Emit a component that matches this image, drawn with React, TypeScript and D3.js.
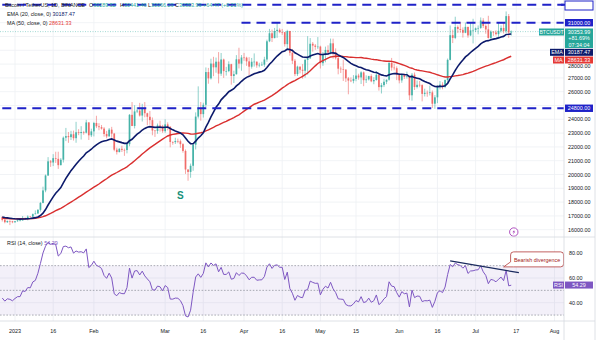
import React from 'react';
import * as d3 from 'd3';

// ---- DATA (daily BTC/USDT) ----
const warmupCloses = [
  20480, 20150, 20207, 21148, 21300, 20905, 20591, 18547, 15922, 17601, 17070, 16813, 16330, 16620, 16900,
  16663, 16696, 16712, 16700, 16280, 15781, 16227, 16600, 16598, 16522, 16459, 16428, 16213, 16442, 17163,
  16978, 17092, 16885, 17105, 16966, 17089, 16836, 17224, 17128, 17128, 17104, 17206, 17781, 17813, 17364,
  16618, 16777, 16739, 16438, 16895, 16824, 16821, 16778, 16836, 16832, 16919,
];
const firstDate = '2022-12-27';
const closes = [
  16706, 16547, 16633, 16607, 16542,
  16616, 16672, 16675, 16850, 16831, 16950, 16943, 17127, 17178, 17440, 17943, 18846, 19930, 20954, 20871, 21185,
  21133, 20677, 21071, 22667, 22784, 22707, 22917, 22632, 23060, 23009, 23078, 23031, 23774, 22841, 23125,
  23733, 23492, 23431, 23326, 22933, 22763, 23250, 22964, 21797, 21626, 21863, 21783, 21773, 22200, 24325, 23518,
  24570, 24632, 24272, 24838, 24440, 24182, 23940, 23186, 23157, 23555, 23492, 23141,
  23629, 23466, 22354, 22346, 22430, 22410, 22197, 21705, 20363, 20187, 20633, 22163, 24197, 24746, 24375, 25052,
  27423, 26966, 28039, 27767, 28176, 27307, 28333, 27493, 27494, 27994, 27140, 27268, 28348, 28033, 28478,
  28465, 28199, 27812, 28170, 28175, 27908, 27947, 27960, 28333, 29653, 30235, 29884, 30399, 30485, 30318, 30315,
  29445, 30397, 28823, 28245, 27276, 27817, 27591, 27515, 28307, 28422, 29473, 29340, 29248, 29268,
  28068, 28669, 29026, 28838, 29506, 28849, 28431, 27669, 27628, 27599, 26969, 26805, 26784, 26931, 27169, 27034,
  27399, 26833, 26890, 27130, 26753, 26851, 27225, 26334, 26476, 26720, 26868, 28085, 27745, 27702, 27219,
  26819, 27249, 27069, 27116, 25739, 27230, 26339, 26499, 26477, 25842, 25922, 25902, 25954, 25129, 25591, 26335,
  26510, 26340, 26845, 28307, 30095, 29896, 30689, 30548, 30481, 30271, 30697, 30077, 30446, 30477,
  30590, 30620, 31157, 30767, 30515, 29895, 30346, 30292, 30171, 30414, 30620, 30392, 31477, 30289.52, 30353.99,
];
const highs = [
  16972, 16785, 16664, 16677, 16644,
  16628, 16760, 16778, 16990, 16879, 17041, 16977, 17176, 17398, 17490, 18000, 19117, 19999, 21258, 21050, 21474,
  21650, 21650, 21192, 22755, 23375, 23080, 23165, 23180, 23816, 23282, 23500, 23165, 23960, 23789, 23320,
  23812, 24255, 23720, 23587, 23433, 23158, 23367, 23452, 23011, 21940, 21906, 22090, 21884, 22322, 24380, 25250,
  25021, 24877, 25190, 25121, 25250, 24476, 24599, 24132, 23219, 23689, 23897, 23600,
  24000, 23780, 23476, 22410, 22662, 22603, 22534, 22267, 21814, 20367, 20792, 22185, 24500, 26386, 25250, 25199,
  27756, 27724, 28390, 28528, 28471, 28869, 28805, 28395, 27800, 28200, 28022, 27520, 28650, 29184, 28658,
  28810, 28534, 28500, 28444, 28776, 28189, 28100, 28170, 28530, 29770, 30550, 30500, 30620, 31000, 30595, 30550,
  30320, 30485, 30411, 29097, 28374, 27888, 27820, 28000, 28400, 30020, 29887, 29600, 29454, 29960,
  29333, 28880, 29266, 29360, 29850, 29840, 29138, 28630, 27829, 28331, 27630, 27065, 27033, 27200, 27662, 27300,
  27485, 27466, 27183, 27155, 27265, 27049, 27500, 27225, 26634, 26932, 26888, 28193, 28447, 28040, 27835,
  27350, 27300, 27317, 27455, 27131, 27355, 27391, 26810, 26780, 26534, 26219, 26087, 26435, 26087, 25750, 26474,
  26775, 26684, 26888, 28402, 30800, 30500, 31432, 30800, 31060, 30663, 31006, 30703, 31000, 31282,
  30650, 30800, 31381, 31330, 30877, 31500, 30449, 30385, 30450, 31045, 30800, 30980, 31814, 31630, 30441.46,
];
const lows = [
  16592, 16465, 16488, 16333, 16470,
  16499, 16573, 16600, 16652, 16753, 16679, 16908, 16911, 17105, 17142, 17315, 17910, 18714, 19888, 20551, 20611,
  20841, 20407, 20659, 20869, 22422, 22293, 22500, 22462, 22300, 22850, 22534, 22880, 22977, 22500, 22715,
  22760, 23363, 23206, 23253, 22745, 22628, 22745, 22665, 21688, 21451, 21599, 21630, 21351, 21532, 22047, 23505,
  23339, 24450, 24197, 23840, 24148, 23574, 23608, 22841, 22722, 22955, 23106, 23020,
  23020, 23195, 21971, 22157, 22210, 22265, 21927, 21580, 20042, 19549, 19765, 20271, 21814, 24060, 23899, 24124,
  24890, 26578, 26880, 27125, 27375, 26601, 27146, 27000, 27166, 27415, 26509, 26631, 27240, 27686, 27521,
  28236, 27871, 27200, 27671, 27820, 27732, 27766, 27870, 27800, 28170, 29590, 29600, 29870, 29900, 30238, 30120,
  29271, 29100, 28611, 28010, 27125, 27141, 27331, 26942, 27020, 27235, 28375, 28900, 29035, 29088,
  27680, 27872, 28130, 28669, 28700, 28390, 28331, 27260, 27353, 26777, 26700, 25811, 26694, 26605, 26758, 26870,
  26560, 26400, 26630, 26811, 26688, 26540, 26800, 26080, 25871, 26335, 26550, 26800, 27524, 27550, 26839,
  26605, 26646, 26920, 26951, 25388, 25350, 26125, 26236, 26321, 25300, 25655, 25633, 25730, 24820, 24758, 25171,
  26166, 26174, 26257, 26652, 28267, 29525, 29809, 30250, 30270, 29922, 30237, 29907, 30028, 29500,
  30330, 30158, 30551, 30620, 30200, 29850, 29701, 30045, 30071, 29950, 30288, 30220, 30254, 29900, 30066.29,
];

const timeTicks = [
  { date: '2023-01-01', label: '2023' }, { date: '2023-01-16', label: '16' }, { date: '2023-02-01', label: 'Feb' },
  { date: '2023-03-01', label: 'Mar' }, { date: '2023-03-16', label: '16' }, { date: '2023-04-01', label: 'Apr' },
  { date: '2023-04-16', label: '16' }, { date: '2023-05-01', label: 'May' }, { date: '2023-05-15', label: '15' },
  { date: '2023-06-01', label: 'Jun' }, { date: '2023-06-16', label: '16' }, { date: '2023-07-01', label: 'Jul' },
  { date: '2023-07-17', label: '17' }, { date: '2023-08-01', label: 'Aug' },
];
const priceGrid = [16000, 17000, 18000, 19000, 20000, 21000, 22000, 23000, 24000, 25000, 26000, 27000, 28000, 29000, 30000, 31000, 32000];
const priceLabels = [16000, 17000, 18000, 19000, 20000, 21000, 22000, 23000, 24000, 26000, 27000, 28000];
const rsiTicks = [40, 60, 80];
const rsiLevels = [70, 50, 30];
const levelPrices = [32300, 31000, 24800];
const levelStarts = ['2022-12-27', '2023-03-31', '2022-12-27'];
const divergenceDates = ['2023-06-21', '2023-07-18'];
const divergenceRsi = [73.8, 64.3];
const lastInfo = { open: 30289.52, high: 30441.46, low: 30066.29, close: 30353.99, change: 64.47, pct: 0.21, ytd: 81.69, countdown: '07:34:04' };
const lastIndicators = { ema: 30187.47, ma: 28631.33, rsi: 54.29 };

// ---- indicator helpers ----
function emaCalc(v: number[], n: number) {
  const a = 2 / (n + 1);
  const out: number[] = [];
  let e = d3.mean(v.slice(0, n)) as number;
  v.forEach((x, i) => {
    if (i < n) { out.push(NaN); if (i === n - 1) out[i] = e; return; }
    e = a * x + (1 - a) * e; out.push(e);
  });
  return out;
}
function smaCalc(v: number[], n: number) {
  return v.map((_, i) => (i < n - 1 ? NaN : (d3.mean(v.slice(i - n + 1, i + 1)) as number)));
}
function rsiCalc(v: number[], n: number) {
  const out: number[] = v.map(() => NaN);
  let g = 0, l = 0;
  for (let i = 1; i <= n; i++) { const d = v[i] - v[i - 1]; g += Math.max(d, 0); l += Math.max(-d, 0); }
  g /= n; l /= n; out[n] = 100 - 100 / (1 + g / l);
  for (let i = n + 1; i < v.length; i++) {
    const d = v[i] - v[i - 1];
    g = (g * (n - 1) + Math.max(d, 0)) / n; l = (l * (n - 1) + Math.max(-d, 0)) / n;
    out[i] = 100 - 100 / (1 + g / l);
  }
  return out;
}

const parse = (s: string) => new Date(s + 'T00:00:00Z');

export default function App() {
  const W = 600, H = 340;
  const axisX = 564;
  const paneBottom = 237, rsiBottom = 321;
  const x = d3.scaleUtc().domain([parse('2023-01-01'), parse('2023-08-01')]).range([15, 554.5]);
  const y = d3.scaleLinear().domain([16000, 31000]).range([229.7, 22.7]);
  const yr = d3.scaleLinear().domain([40, 80]).range([302.7, 253.3]);

  const all = [...warmupCloses, ...closes];
  const off = warmupCloses.length;
  const ema = emaCalc(all, 20).slice(off);
  const ma = smaCalc(all, 50).slice(off);
  const rsi = rsiCalc(all, 14).slice(off);
  const start = parse(firstDate);
  const candles = closes.map((c, i) => ({
    date: d3.utcDay.offset(start, i),
    o: all[off + i - 1], h: highs[i], l: lows[i], c,
  }));

  const lineP = d3.line<number>().x((_, i) => x(candles[i].date)).y((v) => y(v)).defined((v) => !isNaN(v));
  const lineR = d3.line<number>().x((_, i) => x(candles[i].date)).y((v) => yr(v)).defined((v) => !isNaN(v));
  const bw = 1.7;
  const up = '#26a69a', dn = '#ef5350';
  const font = '"Liberation Sans", Arial, sans-serif';
  const fs = 5.4;
  const lvlColor = '#1f22c8';
  const teal = '#26a69a';
  const fmt = d3.format('.2f');

  const ann = { date: '2023-03-07', price: 18500, text: 'S' };
  const icon = { date: '2023-07-16', price: 15830 };
  const callAnchor = { date: '2023-07-12', rsi: 69 };
  const ax = x(parse(callAnchor.date)), ay = yr(callAnchor.rsi);
  const rsiY = yr(lastIndicators.rsi);

  return (
    <svg width={W} height={H} style={{ position: 'absolute', left: 0, top: 0, background: '#fff' }} fontFamily={font}>
      <defs>
        <clipPath id="main"><rect x={0} y={0} width={axisX} height={paneBottom} /></clipPath>
        <clipPath id="rsi"><rect x={0} y={paneBottom} width={axisX} height={rsiBottom - paneBottom} /></clipPath>
      </defs>
      <rect x={0} y={0} width={W} height={H} fill="#fff" />
      {/* grid */}
      {timeTicks.map((t) => (
        <line key={t.date} x1={x(parse(t.date))} x2={x(parse(t.date))} y1={0} y2={rsiBottom} stroke="#eef0f4" strokeWidth={0.8} />
      ))}
      <g clipPath="url(#main)">
        {priceGrid.map((p) => (
          <line key={p} x1={0} x2={axisX} y1={y(p)} y2={y(p)} stroke="#eef0f4" strokeWidth={0.8} />
        ))}
      </g>
      <g clipPath="url(#rsi)">
        {rsiTicks.map((r) => (
          <line key={r} x1={0} x2={axisX} y1={yr(r)} y2={yr(r)} stroke="#eef0f4" strokeWidth={0.8} />
        ))}
      </g>
      {/* main pane */}
      <g clipPath="url(#main)">
        <line x1={0} x2={axisX} y1={y(lastInfo.close)} y2={y(lastInfo.close)} stroke={teal} strokeOpacity={0.6} strokeWidth={0.7} strokeDasharray="1,1.5" />
        {candles.map((d, i) => {
          const cx = x(d.date);
          const col = d.c >= d.o ? up : dn;
          const top = y(Math.max(d.o, d.c)), bot = y(Math.min(d.o, d.c));
          return (
            <g key={i} opacity={0.85}>
              <line x1={cx} x2={cx} y1={y(Math.max(d.h, d.o, d.c))} y2={y(Math.min(d.l, d.o, d.c))} stroke={col} strokeWidth={0.6} />
              <rect x={cx - bw / 2} y={top} width={bw} height={Math.max(bot - top, 0.6)} fill={col} />
            </g>
          );
        })}
        <path d={lineP(ma) || ''} fill="none" stroke="#d92f2f" strokeWidth={1.4} />
        <path d={lineP(ema) || ''} fill="none" stroke="#0c1a6b" strokeWidth={1.6} />
        {levelPrices.map((p, i) => (
          <line key={p} x1={Math.max(0, x(parse(levelStarts[i])))} x2={axisX} y1={y(p)} y2={y(p)} stroke={lvlColor} strokeWidth={2.1} strokeDasharray="9,6" />
        ))}
        <text x={x(parse(ann.date))} y={y(ann.price)} textAnchor="middle" dominantBaseline="central" fontSize={10} fontWeight="bold" fill="#17917a">{ann.text}</text>
        <g transform={`translate(${x(parse(icon.date))},${y(icon.price)})`}>
          <circle r={4.2} fill="#fff" stroke="#9c27b0" strokeWidth={0.8} />
          <path d="M0.9,-2.6 L-1.3,0.3 L0.2,0.3 L-0.9,2.6 L1.4,-0.5 L-0.1,-0.5 Z" fill="#9c27b0" />
        </g>
      </g>
      {/* legend text */}
      <text y={6.5} fontSize={fs} fill="#131722">
        <tspan x={5}>Bitcoin / TetherUS, 1D, BINANCE</tspan>
        <tspan x={89}>O</tspan><tspan fill={teal}>{fmt(lastInfo.open)}</tspan>
        <tspan x={120}>H</tspan><tspan fill={teal}>{fmt(lastInfo.high)}</tspan>
        <tspan x={148}>L</tspan><tspan fill={teal}>{fmt(lastInfo.low)}</tspan>
        <tspan x={175}>C</tspan><tspan fill={teal}>{fmt(lastInfo.close)}</tspan>
        <tspan x={203} fill={teal}>{`+${fmt(lastInfo.change)} (+${fmt(lastInfo.pct)}%)`}</tspan>
      </text>
      <text x={7} y={16} fontSize={fs} fill="#131722">EMA (20, close, 0) <tspan fill="#0c1a6b">{fmt(lastIndicators.ema)}</tspan></text>
      <text x={7} y={25} fontSize={fs} fill="#131722">MA (50, close, 0) <tspan fill="#e53935">{fmt(lastIndicators.ma)}</tspan></text>

      {/* RSI pane */}
      <line x1={0} x2={595} y1={paneBottom} y2={paneBottom} stroke="#d6d9e0" strokeWidth={0.8} />
      <g clipPath="url(#rsi)">
        <rect x={0} y={yr(70)} width={axisX} height={yr(30) - yr(70)} fill="#7e57c2" fillOpacity={0.09} />
        {rsiLevels.map((r) => (
          <line key={r} x1={0} x2={axisX} y1={yr(r)} y2={yr(r)} stroke="#9598a1" strokeWidth={0.8} strokeDasharray="1.6,1.6" />
        ))}
        <path d={lineR(rsi) || ''} fill="none" stroke="#7e57c2" strokeWidth={1} />
        <line x1={x(parse(divergenceDates[0]))} x2={x(parse(divergenceDates[1]))} y1={yr(divergenceRsi[0])} y2={yr(divergenceRsi[1])} stroke="#1a2a5e" strokeWidth={1.2} />
        <path
          d={`M${ax},${ay} L${ax + 7},${ay - 5} L${ax + 7},${ay - 12} Q${ax + 7},${ay - 15} ${ax + 10},${ay - 15} L${ax + 57},${ay - 15} Q${ax + 60},${ay - 15} ${ax + 60},${ay - 12} L${ax + 60},${ay - 3} Q${ax + 60},${ay} ${ax + 57},${ay} L${ax + 10},${ay} Z`}
          fill="#fff" stroke="#b23a3a" strokeWidth={0.8}
        />
        <text x={ax + 33.5} y={ay - 7.3} textAnchor="middle" dominantBaseline="central" fontSize={fs} fill="#a32020">Bearish divergence</text>
      </g>
      <text x={7} y={245} fontSize={fs} fill="#131722">RSI (14, close) <tspan fill="#7e57c2">{fmt(lastIndicators.rsi)}</tspan></text>

      {/* axes frame */}
      <line x1={0} x2={595} y1={rsiBottom} y2={rsiBottom} stroke="#d6d9e0" strokeWidth={0.8} />
      <line x1={axisX} x2={axisX} y1={0} y2={H} stroke="#d6d9e0" strokeWidth={0.8} />
      <line x1={595} x2={595} y1={0} y2={H} stroke="#d6d9e0" strokeWidth={0.8} />

      {/* time axis labels */}
      {timeTicks.map((t) => (
        <text key={t.date} x={x(parse(t.date))} y={331} textAnchor="middle" dominantBaseline="central" fontSize={fs} fill="#131722">{t.label}</text>
      ))}
      {/* price axis labels */}
      {priceLabels.map((p) => (
        <text key={p} x={568} y={y(p) + (p === 28000 ? 1.5 : 0)} dominantBaseline="central" fontSize={fs} fill="#131722">{fmt(p)}</text>
      ))}
      {rsiTicks.map((r) => (
        <text key={r} x={569} y={yr(r)} dominantBaseline="central" fontSize={fs} fill="#131722">{fmt(r)}</text>
      ))}
      {/* price axis boxes */}
      <rect x={565} y={1} width={28} height={9} fill="#fff" stroke={lvlColor} strokeWidth={1} />
      <line x1={axisX - 3} x2={565} y1={y(levelPrices[0])} y2={y(levelPrices[0])} stroke={lvlColor} strokeWidth={2} />
      {[levelPrices[1], levelPrices[2]].map((p) => (
        <g key={p}>
          <rect x={565} y={y(p) - 3.7} width={28} height={7.4} fill={lvlColor} />
          <text x={579} y={y(p)} textAnchor="middle" dominantBaseline="central" fontSize={fs} fill="#fff">{fmt(p)}</text>
        </g>
      ))}
      <rect x={539} y={28.5} width={25} height={7} fill={teal} />
      <text x={551.5} y={32} textAnchor="middle" dominantBaseline="central" fontSize={fs - 0.3} fill="#fff">BTCUSDT</text>
      <rect x={565} y={28.5} width={28} height={19.5} fill={teal} />
      <text x={579} y={32} textAnchor="middle" dominantBaseline="central" fontSize={fs} fill="#fff">{fmt(lastInfo.close)}</text>
      <text x={579} y={38.3} textAnchor="middle" dominantBaseline="central" fontSize={fs} fill="#fff">{`+${fmt(lastInfo.ytd)}%`}</text>
      <text x={579} y={44.5} textAnchor="middle" dominantBaseline="central" fontSize={fs} fill="#fff">{lastInfo.countdown}</text>
      <rect x={550} y={48.8} width={14} height={7} fill="#0c1a6b" />
      <text x={557} y={52.3} textAnchor="middle" dominantBaseline="central" fontSize={fs} fill="#fff">EMA</text>
      <rect x={565} y={48.8} width={28} height={7} fill="#0c1a6b" />
      <text x={579} y={52.3} textAnchor="middle" dominantBaseline="central" fontSize={fs} fill="#fff">{fmt(lastIndicators.ema)}</text>
      <rect x={553} y={56.5} width={11} height={7} fill="#e53935" />
      <text x={558.5} y={60} textAnchor="middle" dominantBaseline="central" fontSize={fs} fill="#fff">MA</text>
      <rect x={565} y={56.5} width={28} height={7} fill="#e53935" />
      <text x={579} y={60} textAnchor="middle" dominantBaseline="central" fontSize={fs} fill="#fff">{fmt(lastIndicators.ma)}</text>
      <rect x={553} y={rsiY - 3.5} width={11} height={7} fill="#7e57c2" />
      <text x={558.5} y={rsiY} textAnchor="middle" dominantBaseline="central" fontSize={fs} fill="#fff">RSI</text>
      <rect x={565} y={rsiY - 3.5} width={28} height={7} fill="#7e57c2" />
      <text x={579} y={rsiY} textAnchor="middle" dominantBaseline="central" fontSize={fs} fill="#fff">{fmt(lastIndicators.rsi)}</text>
    </svg>
  );
}
